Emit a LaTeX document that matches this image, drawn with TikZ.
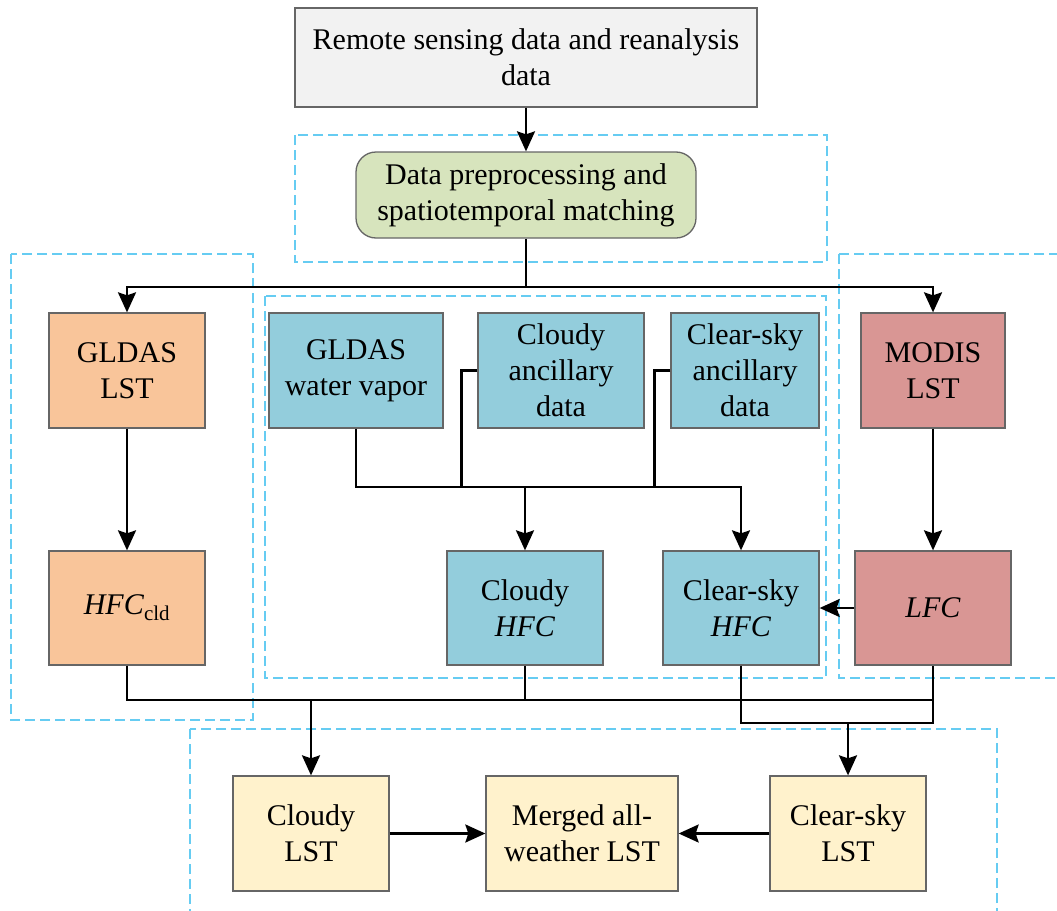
\documentclass[tikz,border=0pt]{standalone}
\usepackage{fontspec}
\setmainfont{Liberation Serif}
\usetikzlibrary{arrows.meta}
\definecolor{topgray}{HTML}{F2F2F2}
\definecolor{prepgreen}{HTML}{D7E4BD}
\definecolor{gldasorange}{HTML}{F9C59A}
\definecolor{hfcblue}{HTML}{93CDDC}
\definecolor{modisred}{HTML}{D99694}
\definecolor{lstyellow}{HTML}{FFF2CC}
\definecolor{grpblue}{HTML}{66CCF2}
\begin{document}
\begin{tikzpicture}[x=1pt,y=-1pt]
\tikzstyle{every node}+=[font=\fontsize{30}{36}\selectfont]
\tikzstyle{box}=[draw=black!60, line width=1.3pt, align=center, minimum height=115pt, inner sep=0pt]
\tikzstyle{grp}=[draw=grpblue, line width=1.3pt, dash pattern=on 10pt off 5pt]
\tikzstyle{ln}=[line width=2.4pt]
\tikzstyle{arr}=[ln, -{Stealth[length=20pt,width=18pt,inset=3pt]}]
\clip (0,0) rectangle (1057,910);
\fill [white] (0,0) rectangle (1057,910);
\draw [grp] (295,135) rectangle (827,262);
\draw [grp] (11,254) rectangle (253,720);
\draw [grp] (265,296) rectangle (826,678);
\draw [grp] (839,254) rectangle (1080,678);
\draw [grp] (190,729) rectangle (997,930);
\node [box, fill=topgray, minimum width=462pt, minimum height=99pt] (top) at (526,57.5) {Remote sensing data and reanalysis\\data};
\node [box, fill=prepgreen, rounded corners=20pt, minimum width=340pt, minimum height=86pt] (prep) at (526,195) {Data preprocessing and\\spatiotemporal matching};
\node [box, fill=gldasorange, minimum width=156pt] (gldas) at (127,370.5) {GLDAS\\LST};
\node [box, fill=gldasorange, minimum width=156pt, minimum height=114pt] (hfccld) at (127,608) {\textit{HFC}\textsubscript{cld}};
\node [box, fill=hfcblue, minimum width=174pt] (wv) at (356,370.5) {GLDAS\\water vapor};
\node [box, fill=hfcblue, minimum width=166pt] (cldanc) at (561,370.5) {Cloudy\\ancillary\\data};
\node [box, fill=hfcblue, minimum width=148pt] (clranc) at (745,370.5) {Clear-sky\\ancillary\\data};
\node [box, fill=modisred, minimum width=144pt] (modis) at (933,370.5) {MODIS\\LST};
\node [box, fill=hfcblue, minimum width=156pt, minimum height=114pt] (cldhfc) at (525,608) {Cloudy\\\textit{HFC}};
\node [box, fill=hfcblue, minimum width=156pt, minimum height=114pt] (clrhfc) at (741,608) {Clear-sky\\\textit{HFC}};
\node [box, fill=modisred, minimum width=156pt, minimum height=114pt] (lfc) at (933,608) {\textit{LFC}};
\node [box, fill=lstyellow, minimum width=156pt] (cldlst) at (311,833.5) {Cloudy\\LST};
\node [box, fill=lstyellow, minimum width=192pt] (merged) at (582,833.5) {Merged all-\\weather LST};
\node [box, fill=lstyellow, minimum width=156pt] (clrlst) at (848,833.5) {Clear-sky\\LST};
\coordinate (split) at (526,287);
\coordinate (mix) at (525,487);
\coordinate (bus) at (311,700);
\coordinate (bus2) at (848,723);
\draw [arr] (top) -- (prep);
\draw [ln] (prep) -- (split);
\draw [arr] (split) -| (gldas);
\draw [arr] (split) -| (modis);
\draw [arr] (gldas) -- (hfccld);
\draw [arr] (modis) -- (lfc);
\draw [arr] (wv.south) |- (clrhfc |- mix) -- (clrhfc.north);
\draw [ln] (cldanc.west) -- ++(-16,0) |- (mix);
\draw [ln] (clranc.west) -- ++(-16,0) |- (mix);
\draw [arr] (mix) -- (cldhfc.north);
\draw [arr] (lfc) -- (clrhfc);
\draw [ln] (hfccld.south) |- (lfc |- bus) -- (lfc.south);
\draw [ln] (cldhfc.south) -- (cldhfc |- bus);
\draw [ln] (clrhfc.south) |- (lfc |- bus2) -- (lfc |- bus);
\draw [arr] (bus) -- (cldlst);
\draw [arr] (bus2) -- (clrlst);
\draw [arr] (cldlst) -- (merged);
\draw [arr] (clrlst) -- (merged);
\end{tikzpicture}
\end{document}
